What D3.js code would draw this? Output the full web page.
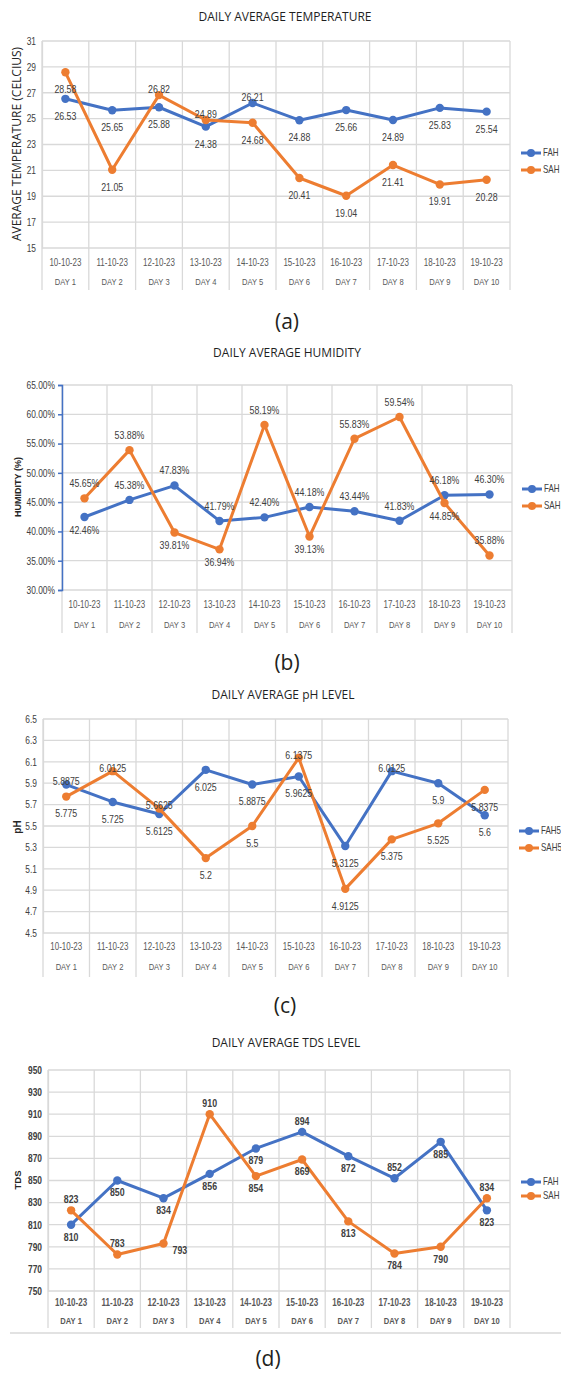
<!DOCTYPE html>
<html><head><meta charset="utf-8">
<script src="https://cdn.jsdelivr.net/npm/d3@7"></script>
<style>
body{margin:0;background:#fff;}
svg{display:block;}
</style></head>
<body>
<script>
// ---------- DATA ----------
const dates = ["10-10-23","11-10-23","12-10-23","13-10-23","14-10-23","15-10-23","16-10-23","17-10-23","18-10-23","19-10-23"];
const days = ["DAY 1","DAY 2","DAY 3","DAY 4","DAY 5","DAY 6","DAY 7","DAY 8","DAY 9","DAY 10"];

const tempFAH = [26.53,25.65,25.88,24.38,26.21,24.88,25.66,24.89,25.83,25.54];
const tempSAH = [28.58,21.05,26.82,24.89,24.68,20.41,19.04,21.41,19.91,20.28];
const tempTicks = [15,17,19,21,23,25,27,29,31];
const tempFAHpos = ["b","b","b","b","a","b","b","b","b","b"];
const tempSAHpos = ["b","b","a","a","b","b","b","b","b","b"];

const humFAH = [42.46,45.38,47.83,41.79,42.40,44.18,43.44,41.83,46.18,46.30];
const humSAH = [45.65,53.88,39.81,36.94,58.19,39.13,55.83,59.54,44.85,35.88];
const humTicks = [30,35,40,45,50,55,60,65];
const humFAHpos = ["b","a","a","a","a","a","a","a","a","a"];
const humSAHpos = ["a","a","b","b","a","b","a","a","b","a"];

const phFAH = [5.8875,5.725,5.6125,6.025,5.8875,5.9625,5.3125,6.0125,5.9,5.6];
const phSAH = [5.775,6.0125,5.6625,5.2,5.5,6.1375,4.9125,5.375,5.525,5.8375];
const phTicks = [4.5,4.7,4.9,5.1,5.3,5.5,5.7,5.9,6.1,6.3,6.5];
const phFAHpos = ["a","b","b","b","b","b","b","a","b","b"];
const phSAHpos = ["b","a","a","b","b","a","b","b","b","b"];

const tdsFAH = [810,850,834,856,879,894,872,852,885,823];
const tdsSAH = [823,783,793,910,854,869,813,784,790,834];
const tdsTicks = [750,770,790,810,830,850,870,890,910,930,950];
const tdsFAHpos = ["b","b","b","b","b","a","b","a","b","b"];
const tdsSAHpos = ["a","a","r","a","b","b","b","b","b","a"];

// ---------- DRAW ----------
const W = 561, H = 1374;
const BLUE = "#4472C4", ORANGE = "#ED7D31";
const FONT = "'Liberation Sans',Arial,sans-serif";
const SX = 0.8; // horizontal condensing to mimic a narrow font
const svg = d3.select("body").append("svg").attr("width", W).attr("height", H);

// move x/y into a transform and squeeze horizontally
function condense(sel){
  sel.each(function(){
    const t = d3.select(this);
    const x = +t.attr("x") || 0, y = +t.attr("y") || 0;
    t.attr("x",0).attr("y",0).attr("transform",`translate(${x},${y}) scale(${SX},1)`);
  });
}

function panel(cfg){
  const g = svg.append("g");
  const x = d3.scaleBand().domain(dates).range([cfg.left, cfg.right]);
  const y = d3.scaleLinear().domain(d3.extent(cfg.ticks)).range([cfg.bottom, cfg.top]);
  const xc = d => x(d) + x.bandwidth()/2;

  // title
  g.append("text").attr("x", cfg.titleX).attr("y", cfg.titleY)
    .attr("text-anchor","middle").attr("dominant-baseline","central")
    .style("font-family","'Open Sans',sans-serif").style("font-size","12px")
    .attr("fill","#1f1f1f").text(cfg.title);

  // horizontal grid
  g.append("g").selectAll("line").data(cfg.ticks).join("line")
    .attr("x1", cfg.left).attr("x2", cfg.right)
    .attr("y1", d => y(d)).attr("y2", d => y(d))
    .attr("stroke","#d9d9d9").attr("stroke-width",1.3);

  // vertical category separators (extend through category labels)
  const bounds = dates.map(d => x(d)).concat([cfg.right]);
  g.append("g").selectAll("line").data(bounds).join("line")
    .attr("x1", d => d).attr("x2", d => d)
    .attr("y1", cfg.top).attr("y2", cfg.vBottom)
    .attr("stroke","#d9d9d9").attr("stroke-width",1.3);

  // y axis
  const yAxis = d3.axisLeft(y).tickValues(cfg.ticks).tickFormat(cfg.fmt)
    .tickSize(cfg.axisColor ? 4 : 0).tickPadding(cfg.axisColor ? 3 : 6);
  const ya = g.append("g").attr("transform",`translate(${cfg.left},0)`).call(yAxis);
  ya.select(".domain").attr("stroke", cfg.axisColor || "#d9d9d9").attr("stroke-width", cfg.axisColor ? 1.5 : 1.3);
  ya.selectAll(".tick line").attr("stroke", cfg.axisColor || "none").attr("stroke-width",1.5);
  ya.selectAll("text").style("font-family",FONT).style("font-size","10.5px")
    .style("font-weight", cfg.bold ? "bold" : "normal").attr("fill","#404040").call(condense);

  // x category labels (two levels)
  const xa = d3.axisBottom(x).tickSize(0).tickPadding(0);
  const xg = g.append("g").attr("transform",`translate(0,${cfg.dateY})`).call(xa);
  xg.select(".domain").remove();
  xg.selectAll("text").attr("dy",0).attr("dominant-baseline","central")
    .style("font-family",FONT).style("font-size","10px")
    .style("font-weight", cfg.bold ? "bold" : "normal").attr("fill","#595959").call(condense);
  g.append("g").selectAll("text").data(days).join("text")
    .attr("x",(d,i)=>xc(dates[i])).attr("y",cfg.dayY)
    .attr("text-anchor","middle").attr("dominant-baseline","central")
    .style("font-family",FONT).style("font-size","9.5px")
    .style("font-weight", cfg.bold ? "bold" : "normal").attr("fill","#595959").text(d=>d).call(condense);

  // y title
  g.append("text").attr("transform",`translate(${cfg.yTitleX},${cfg.yTitleY}) rotate(-90)`)
    .attr("text-anchor","middle").attr("dominant-baseline","central")
    .style("font-family", cfg.yTitleBold ? FONT : "'Open Sans',sans-serif")
    .style("font-size", cfg.yTitleSize).style("font-weight", cfg.yTitleBold ? "bold":"normal")
    .attr("fill", "#262626").text(cfg.yTitle);

  // series
  const series = [
    {vals: cfg.fah, pos: cfg.fahPos, color: BLUE, name: cfg.names[0]},
    {vals: cfg.sah, pos: cfg.sahPos, color: ORANGE, name: cfg.names[1]}
  ];
  const line = d3.line().x((d,i)=>xc(dates[i])).y(d=>y(d));
  series.forEach(s=>{
    g.append("path").datum(s.vals).attr("d",line).attr("fill","none")
      .attr("stroke",s.color).attr("stroke-width",3).attr("stroke-linejoin","round");
    g.append("g").selectAll("circle").data(s.vals).join("circle")
      .attr("cx",(d,i)=>xc(dates[i])).attr("cy",d=>y(d)).attr("r",4.2).attr("fill",s.color);
  });
  series.forEach(s=>{
    g.append("g").selectAll("text").data(s.vals).join("text")
      .attr("x",(d,i)=> xc(dates[i]) + (s.pos[i]==="r" ? 9 : 0))
      .attr("y",(d,i)=> y(d) + (s.pos[i]==="a" ? cfg.offA : s.pos[i]==="r" ? 7 : cfg.offB))
      .attr("text-anchor", (d,i)=> s.pos[i]==="r" ? "start" : "middle")
      .attr("dominant-baseline","central")
      .style("font-family",FONT).style("font-size","11px")
      .style("font-weight", cfg.bold ? "bold" : "normal")
      .attr("fill","#404040").text(d=>cfg.lfmt(d)).call(condense);
  });

  // legend
  series.forEach((s,i)=>{
    const ly = cfg.legY[i];
    g.append("line").attr("x1",cfg.legX).attr("x2",cfg.legX+20).attr("y1",ly).attr("y2",ly)
      .attr("stroke",s.color).attr("stroke-width",3);
    g.append("circle").attr("cx",cfg.legX+10).attr("cy",ly).attr("r",4).attr("fill",s.color);
    g.append("text").attr("x",cfg.legX+22).attr("y",ly).attr("dominant-baseline","central")
      .style("font-family",FONT).style("font-size","10px").attr("fill","#404040").text(s.name).call(condense);
  });

  // sub label
  svg.append("text").attr("x",cfg.subX).attr("y",cfg.subY).attr("text-anchor","middle")
    .attr("dominant-baseline","central").style("font-family","'Open Sans',sans-serif")
    .style("font-size","21px").attr("fill","#231f20").text(cfg.sub);
}

panel({title:"DAILY AVERAGE TEMPERATURE", titleX:285, titleY:16,
  left:42, right:510, top:41, bottom:248, dateY:263, dayY:282, vBottom:290,
  ticks:tempTicks, fmt:d3.format("d"), lfmt:d=>d.toFixed(2),
  fah:tempFAH, sah:tempSAH, fahPos:tempFAHpos, sahPos:tempSAHpos, names:["FAH","SAH"],
  offA:-6, offB:17,
  yTitle:"AVERAGE TEMPERATURE (CELCIUS)", yTitleX:16, yTitleY:144, yTitleSize:"12px", yTitleBold:false,
  legX:521, legY:[153,170], sub:"(a)", subX:287, subY:321});

panel({title:"DAILY AVERAGE HUMIDITY", titleX:287, titleY:352,
  left:62, right:512, top:385, bottom:590, dateY:605, dayY:625, vBottom:633,
  ticks:humTicks, fmt:d=>d.toFixed(2)+"%", lfmt:d=>d.toFixed(2)+"%",
  fah:humFAH, sah:humSAH, fahPos:humFAHpos, sahPos:humSAHpos, names:["FAH","SAH"],
  offA:-15, offB:13, axisColor:BLUE,
  yTitle:"HUMIDITY (%)", yTitleX:18, yTitleY:487, yTitleSize:"9px", yTitleBold:true,
  legX:522, legY:[489,506], sub:"(b)", subX:287, subY:662});

panel({title:"DAILY AVERAGE pH LEVEL", titleX:283, titleY:694,
  left:43, right:508, top:719, bottom:933, dateY:947, dayY:967, vBottom:977,
  ticks:phTicks, fmt:d3.format(".1f"), lfmt:d=>String(d),
  fah:phFAH, sah:phSAH, fahPos:phFAHpos, sahPos:phSAHpos, names:["FAH5","SAH5"],
  offA:-3, offB:17,
  yTitle:"pH", yTitleX:17, yTitleY:827, yTitleSize:"10px", yTitleBold:true,
  legX:519, legY:[831,848], sub:"(c)", subX:285, subY:1005});

panel({title:"DAILY AVERAGE TDS LEVEL", titleX:286, titleY:1042,
  left:48, right:510, top:1070, bottom:1291, dateY:1303, dayY:1321, vBottom:1328,
  ticks:tdsTicks, fmt:d3.format("d"), lfmt:d=>String(d), bold:true,
  fah:tdsFAH, sah:tdsSAH, fahPos:tdsFAHpos, sahPos:tdsSAHpos, names:["FAH","SAH"],
  offA:-11, offB:12,
  yTitle:"TDS", yTitleX:17, yTitleY:1180, yTitleSize:"9.5px", yTitleBold:true,
  legX:521, legY:[1182,1196], sub:"(d)", subX:268, subY:1358});

// chart border line under panel (d)
svg.append("line").attr("x1",10).attr("x2",W).attr("y1",1333).attr("y2",1333)
  .attr("stroke","#d9d9d9").attr("stroke-width",1.3);
</script>
</body></html>
